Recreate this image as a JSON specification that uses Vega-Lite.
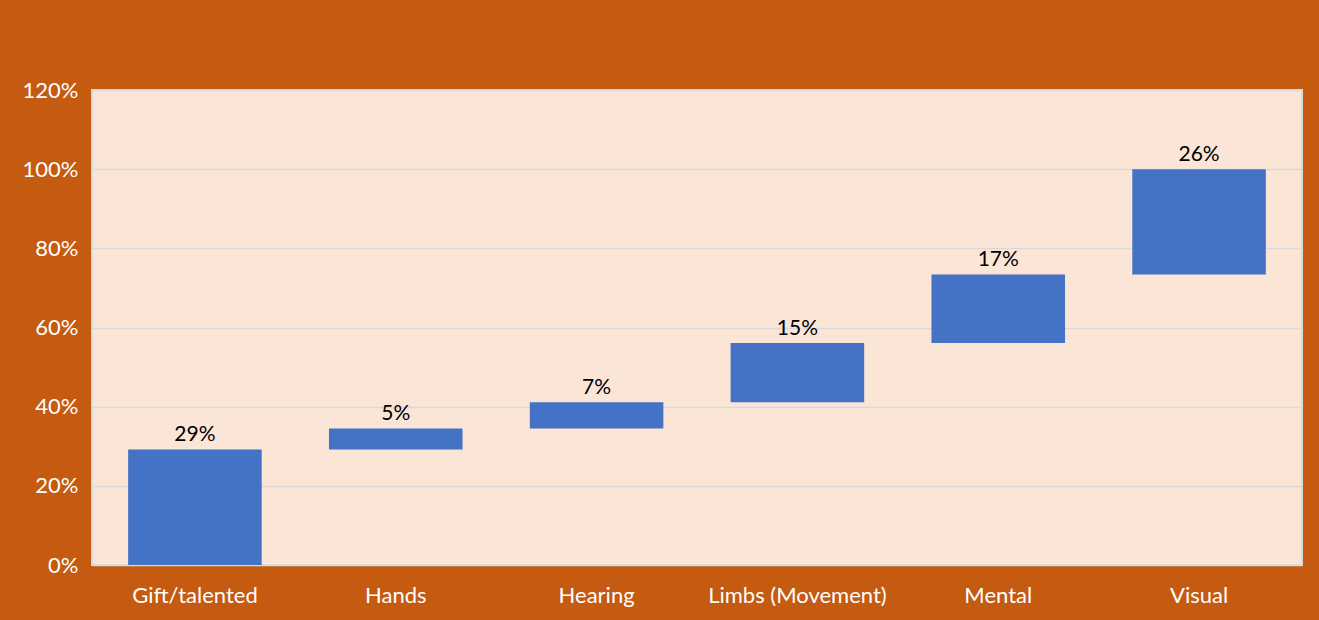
{
  "$schema": "https://vega.github.io/schema/vega-lite/v6.json",
  "autosize": {"type": "none"},
  "width": 1210,
  "height": 475,
  "padding": {"left": 92, "top": 90, "right": 17, "bottom": 55},
  "background": "#C55A11",
  "config": {
    "view": {"fill": "#FAE5D7", "stroke": "#D9D9D9", "strokeWidth": 2},
    "font": "Lato"
  },
  "data": {
    "values": [
      {"category": "Gift/talented", "start": 0.0, "end": 0.292, "label": "29%"},
      {"category": "Hands", "start": 0.292, "end": 0.345, "label": "5%"},
      {"category": "Hearing", "start": 0.345, "end": 0.411, "label": "7%"},
      {"category": "Limbs (Movement)", "start": 0.411, "end": 0.561, "label": "15%"},
      {"category": "Mental", "start": 0.561, "end": 0.734, "label": "17%"},
      {"category": "Visual", "start": 0.734, "end": 1.0, "label": "26%"}
    ]
  },
  "encoding": {
    "x": {
      "field": "category",
      "type": "nominal",
      "sort": null,
      "scale": {"paddingInner": 0.335, "paddingOuter": 0.18},
      "axis": {
        "title": null,
        "labelAngle": 0,
        "labelColor": "#FFFFFF",
        "labelFontSize": 22,
        "labelFont": "Lato",
        "labelPadding": 20,
        "ticks": false,
        "domain": false
      }
    }
  },
  "layer": [
    {
      "mark": {"type": "bar", "color": "#4472C4"},
      "encoding": {
        "y": {
          "field": "start",
          "type": "quantitative",
          "scale": {"domain": [0, 1.2], "nice": false},
          "axis": {
            "title": null,
            "format": ".0%",
            "values": [0, 0.2, 0.4, 0.6, 0.8, 1.0, 1.2],
            "labelColor": "#FFFFFF",
            "labelFontSize": 22,
            "labelFont": "Lato",
            "labelPadding": 14,
            "ticks": false,
            "domain": false,
            "grid": true,
            "gridColor": "#D9D9D9",
            "gridWidth": 1.5
          }
        },
        "y2": {"field": "end"}
      }
    },
    {
      "mark": {"type": "text", "baseline": "bottom", "dy": -4, "fontSize": 21, "color": "#000000", "font": "Lato"},
      "encoding": {
        "y": {"field": "end", "type": "quantitative"},
        "text": {"field": "label"}
      }
    }
  ]
}
